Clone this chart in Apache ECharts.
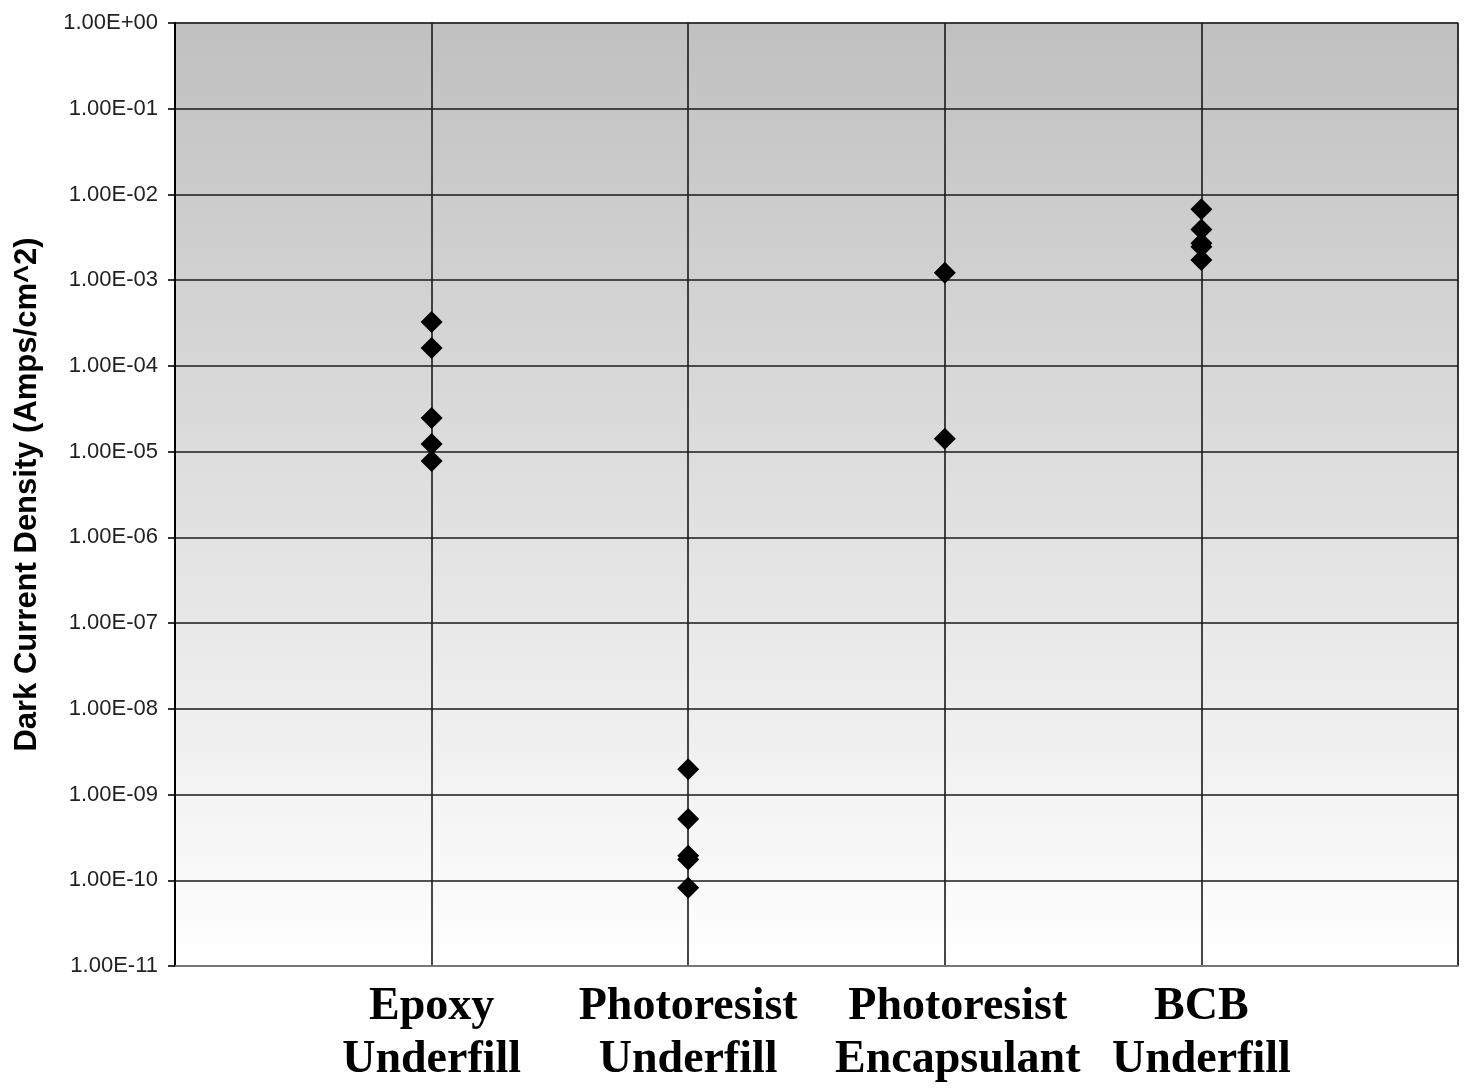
<!DOCTYPE html>
<html>
<head>
<meta charset="utf-8">
<script src="https://cdn.jsdelivr.net/npm/echarts@6/dist/echarts.min.js"></script>
<style>
html,body{margin:0;padding:0;background:#fff;}
#c{width:1465px;height:1091px;}
</style>
</head>
<body>
<div id="c"></div>
<script>
const categories = ["Epoxy\nUnderfill", "Photoresist\nUnderfill", "Photoresist\nEncapsulant", "BCB\nUnderfill"];
const epoxyUnderfill = [3.25e-4, 1.62e-4, 2.47e-5, 1.23e-5, 7.8e-6];
const photoresistUnderfill = [1.97e-9, 5.2e-10, 1.93e-10, 1.75e-10, 8.2e-11];
const photoresistEncapsulant = [1.22e-3, 1.41e-5];
const bcbUnderfill = [6.7e-3, 3.9e-3, 2.7e-3, 2.45e-3, 1.72e-3];
const yTickLabels = ["1.00E-11","1.00E-10","1.00E-09","1.00E-08","1.00E-07","1.00E-06","1.00E-05","1.00E-04","1.00E-03","1.00E-02","1.00E-01","1.00E+00"];
const yAxisName = "Dark Current Density (Amps/cm^2)";

const groups = [epoxyUnderfill, photoresistUnderfill, photoresistEncapsulant, bcbUnderfill];
const data = [];
groups.forEach((g, i) => g.forEach(v => data.push([i + 1, v])));

const serif = '"Liberation Serif", "Times New Roman", serif';
const chart = echarts.init(document.getElementById('c'));
chart.setOption({
  animation: false,
  grid: {
    left: 175, top: 23, right: 7, bottom: 125,
    show: true,
    borderColor: '#8a8a8a', borderWidth: 1.5,
    backgroundColor: {
      type: 'linear', x: 0, y: 0, x2: 0, y2: 1,
      colorStops: [{offset: 0, color: '#c0c0c0'}, {offset: 1, color: '#ffffff'}]
    }
  },
  xAxis: {
    type: 'value', min: 0, max: 5, interval: 1,
    axisLine: {show: true, lineStyle: {color: '#8a8a8a', width: 1.5}},
    axisTick: {show: false},
    splitLine: {show: true, lineStyle: {color: '#1a1a1a', width: 1.6}},
    axisLabel: {
      show: true, margin: 15,
      fontFamily: serif,
      fontWeight: 'bold', fontSize: 46, lineHeight: 53, color: '#000',
      formatter: function (v) {
        const i = Math.round(v) - 1;
        if (i < 0 || i >= categories.length) return '';
        if (i === 2) {
          return categories[i].split('\n').map(s => '{enc|' + s + '}').join('\n');
        }
        return categories[i];
      },
      rich: {
        enc: {
          fontFamily: serif,
          fontWeight: 'bold', fontSize: 46, lineHeight: 53, color: '#000',
          padding: [0, 0, 0, 26]
        }
      }
    }
  },
  yAxis: {
    type: 'log', logBase: 10, min: 1e-11, max: 1, interval: 1,
    name: yAxisName, nameLocation: 'middle', nameRotate: 90, nameGap: 132,
    nameTextStyle: {fontFamily: '"Liberation Sans", Arial, sans-serif', fontWeight: 'bold', fontSize: 31, color: '#000'},
    axisLine: {show: true, lineStyle: {color: '#000', width: 2}},
    axisTick: {show: true, inside: false, length: 7, lineStyle: {color: '#000', width: 1.6}},
    minorTick: {show: false},
    splitLine: {show: true, lineStyle: {color: '#1a1a1a', width: 1.6}},
    axisLabel: {
      margin: 17,
      fontFamily: '"Liberation Sans", Arial, sans-serif', fontSize: 22, color: '#222',
      formatter: function (v) {
        const e = Math.round(Math.log10(v));
        return yTickLabels[e + 11] || '';
      }
    }
  },
  series: [{
    type: 'scatter',
    symbol: 'diamond',
    symbolSize: 22,
    itemStyle: {color: '#000', opacity: 1},
    data: data
  }]
});
</script>
</body>
</html>
